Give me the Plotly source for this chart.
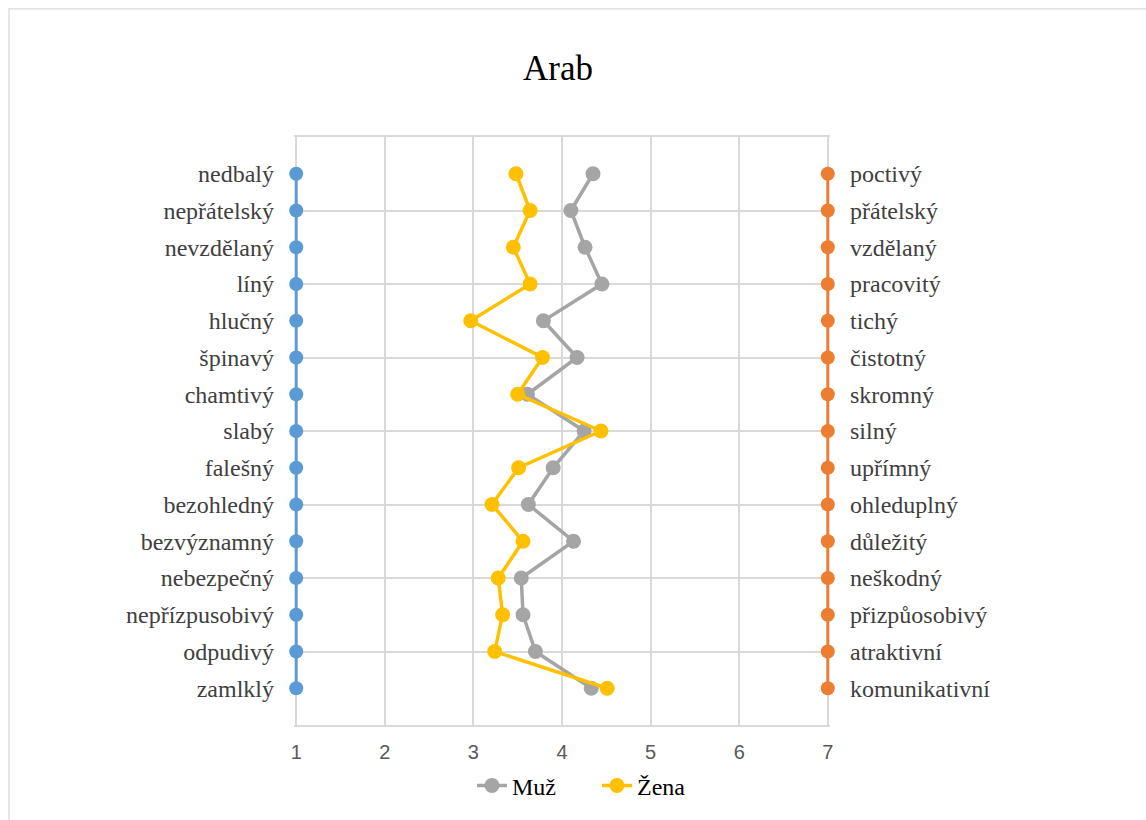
import plotly.graph_objects as go

left_labels = ["nedbalý", "nepřátelský", "nevzdělaný", "líný", "hlučný", "špinavý",
               "chamtivý", "slabý", "falešný", "bezohledný", "bezvýznamný",
               "nebezpečný", "nepřízpusobivý", "odpudivý", "zamlklý"]
right_labels = ["poctivý", "přátelský", "vzdělaný", "pracovitý", "tichý", "čistotný",
                "skromný", "silný", "upřímný", "ohleduplný", "důležitý",
                "neškodný", "přizpůosobivý", "atraktivní", "komunikativní"]
muz = [4.35, 4.10, 4.26, 4.45, 3.79, 4.17, 3.61, 4.25, 3.90, 3.62, 4.13, 3.54, 3.56, 3.70, 4.33]
zena = [3.48, 3.64, 3.45, 3.64, 2.97, 3.78, 3.50, 4.44, 3.51, 3.21, 3.56, 3.28, 3.33, 3.24, 4.51]
rows = list(range(1, 16))
left_value = [1] * 15
right_value = [7] * 15

serif = "Liberation Serif"
fig = go.Figure()

fig.add_trace(go.Scatter(x=[None], y=[None], yaxis="y3", showlegend=False, hoverinfo="skip"))
fig.add_trace(go.Scatter(x=left_value, y=rows, mode="lines+markers", showlegend=False,
                         line=dict(color="#5B9BD5", width=3),
                         marker=dict(color="#5B9BD5", size=14), cliponaxis=False, yaxis="y"))
fig.add_trace(go.Scatter(x=right_value, y=rows, mode="lines+markers", showlegend=False,
                         line=dict(color="#ED7D31", width=3),
                         marker=dict(color="#ED7D31", size=14), cliponaxis=False, yaxis="y2"))
fig.add_trace(go.Scatter(x=muz, y=rows, mode="lines+markers", name="Muž",
                         line=dict(color="#A5A5A5", width=3.5),
                         marker=dict(color="#A5A5A5", size=15), cliponaxis=False, yaxis="y"))
fig.add_trace(go.Scatter(x=zena, y=rows, mode="lines+markers", name="Žena",
                         line=dict(color="#FFC000", width=3.5),
                         marker=dict(color="#FFC000", size=15), cliponaxis=False, yaxis="y"))

W, H = 1146, 820
X1PX, X7PX, T, B = 296, 828, 137, 727
ppu = (X7PX - X1PX) / 6.0
pad_u = 0.025
L = X1PX - pad_u * ppu
R = X7PX + pad_u * ppu
pw, ph = R - L, B - T

def px_to_paper_x(px):
    return (px - L) / pw

fig.update_layout(
    width=W, height=H,
    margin=dict(l=L, r=W - R, t=T, b=H - B, pad=0),
    paper_bgcolor="white", plot_bgcolor="white",
    title=dict(text="Arab", x=px_to_paper_x(558), xref="paper", xanchor="center",
               y=1 - 68 / H, yanchor="middle",
               font=dict(family=serif, size=35, color="#000000")),
    xaxis=dict(range=[1 - pad_u, 7 + pad_u], tickvals=[1, 2, 3, 4, 5, 6, 7], showgrid=True,
               gridcolor="#D9D9D9", gridwidth=1.5, zeroline=False,
               showline=True, linecolor="#D9D9D9", linewidth=1.5, mirror=True,
               ticks="", ticklabelstandoff=8,
               tickfont=dict(family="Liberation Sans", size=20, color="#595959")),
    yaxis=dict(range=[16, 0], tickvals=rows, ticktext=left_labels, showgrid=False,
               zeroline=False, ticks="", ticklabelstandoff=19,
               tickfont=dict(family=serif, size=24, color="#404040")),
    yaxis2=dict(range=[16, 0], tickvals=rows, ticktext=right_labels, overlaying="y",
                side="right", showgrid=False, zeroline=False, ticks="",
                ticklabelstandoff=19,
                tickfont=dict(family=serif, size=24, color="#404040")),
    yaxis3=dict(range=[16, 0], tickvals=[0, 2, 4, 6, 8, 10, 12, 14, 16], overlaying="y",
                showticklabels=False, showgrid=True, gridcolor="#D9D9D9", gridwidth=1.5,
                zeroline=False, ticks=""),
    legend=dict(orientation="h", x=px_to_paper_x(597), xanchor="center",
                y=(B - 788) / ph, yanchor="middle",
                font=dict(family=serif, size=24, color="#000000"),
                entrywidth=80, tracegroupgap=0, bgcolor="rgba(0,0,0,0)"),
    shapes=[dict(type="rect", xref="paper", yref="paper",
                 x0=px_to_paper_x(8.5), x1=px_to_paper_x(1160),
                 y0=(B - 835) / ph, y1=(B - 8.5) / ph,
                 line=dict(color="#D9D9D9", width=1.3), fillcolor="rgba(0,0,0,0)",
                 layer="below")],
)

fig.write_html("out.html")
